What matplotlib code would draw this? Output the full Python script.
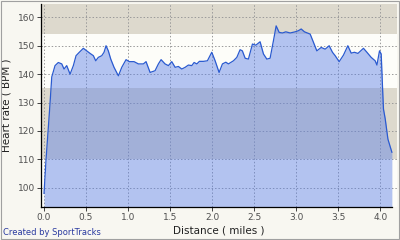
import matplotlib
matplotlib.use("Agg")
import matplotlib.pyplot as plt
from matplotlib.patches import Rectangle

distance = [0.000, 0.024, 0.054, 0.071, 0.092, 0.131, 0.170, 0.211, 0.238, 0.270,
            0.310, 0.349, 0.381, 0.420, 0.468, 0.508, 0.548, 0.587, 0.615, 0.646,
            0.687, 0.714, 0.738, 0.765, 0.794, 0.833, 0.885, 0.925, 0.976, 1.015,
            1.071, 1.123, 1.182, 1.214, 1.262, 1.321, 1.361, 1.393, 1.440, 1.480,
            1.520, 1.560, 1.599, 1.639, 1.679, 1.718, 1.758, 1.786, 1.818, 1.849,
            1.896, 1.944, 1.996, 2.036, 2.083, 2.123, 2.163, 2.194, 2.254, 2.294,
            2.333, 2.360, 2.393, 2.432, 2.480, 2.520, 2.571, 2.611, 2.651, 2.690,
            2.730, 2.762, 2.798, 2.837, 2.877, 2.929, 2.988, 3.027, 3.060, 3.099,
            3.167, 3.206, 3.246, 3.298, 3.345, 3.393, 3.432, 3.464, 3.512, 3.563,
            3.615, 3.655, 3.694, 3.735, 3.801, 3.842, 3.893, 3.940, 3.961, 3.992,
            4.012, 4.027, 4.039, 4.060, 4.092, 4.139]
heart_rate = [98.0, 110.0, 122.4, 129.5, 139.0, 143.0, 144.1, 143.6, 141.8, 143.0,
              140.0, 143.0, 146.5, 147.7, 149.1, 148.2, 147.3, 146.5, 144.7, 145.9,
              146.5, 147.7, 150.0, 148.2, 145.3, 142.4, 139.4, 142.4, 145.1, 144.4,
              144.4, 143.6, 143.6, 144.4, 140.6, 141.2, 143.6, 145.1, 143.6, 143.0,
              144.4, 142.4, 142.7, 141.8, 142.4, 143.2, 143.0, 144.1, 143.6, 144.5,
              144.5, 144.7, 147.7, 144.7, 140.6, 143.6, 144.2, 143.6, 144.7, 145.9,
              148.6, 148.2, 145.6, 145.3, 150.6, 150.2, 151.4, 147.1, 145.3, 145.6,
              151.8, 157.0, 154.7, 154.5, 154.9, 154.5, 154.9, 155.3, 155.9, 154.9,
              154.1, 151.2, 148.2, 149.4, 148.8, 150.0, 147.7, 146.5, 144.4, 146.7,
              150.0, 147.4, 147.7, 147.3, 149.1, 147.7, 145.9, 144.7, 143.2, 148.2,
              147.1, 135.9, 127.7, 124.2, 117.1, 112.5]

zone_bounds = [93.2, 110, 135, 154, 164.7]
zone_colors = ["#fdfdf9", "#ddd9cd", "#fdfdf9", "#ddd9cd"]

x_ticks = [0.0, 0.5, 1.0, 1.5, 2.0, 2.5, 3.0, 3.5, 4.0]
y_ticks = [100, 110, 120, 130, 140, 150, 160]

fig = plt.figure(figsize=(4.0, 2.4), dpi=100)
fig.patch.set_facecolor("#f8f7f1")
fig.add_artist(Rectangle((0.0015, 0.0025), 0.997, 0.995, transform=fig.transFigure,
                         fill=False, edgecolor="#a0a0a0", linewidth=0.8))

ax = fig.add_axes([0.1025, 0.1375, 0.89, 0.8458])
ax.set_xlim(-0.036, 4.20)
ax.set_ylim(zone_bounds[0], zone_bounds[-1])

for lo, hi, c in zip(zone_bounds[:-1], zone_bounds[1:], zone_colors):
    ax.axhspan(lo, hi, color=c, zorder=0, linewidth=0)

ax.grid(True, color="#9a9a9a", linestyle=(0, (1.5, 2)), linewidth=0.7, zorder=1)
ax.set_axisbelow(True)

ax.fill_between(distance, heart_rate, zone_bounds[0], color="#5a7ee6", alpha=0.45,
                linewidth=0, zorder=2)
ax.plot(distance, heart_rate, color="#2a5ad0", linewidth=0.9, zorder=3)

ax.set_xticks(x_ticks)
ax.set_xticklabels([f"{v:.1f}" for v in x_ticks])
ax.set_yticks(y_ticks)
ax.tick_params(axis="both", labelsize=6.5, length=3, width=0.7, color="#404040",
               labelcolor="#505050", pad=1.5)
for s in ["top", "right"]:
    ax.spines[s].set_visible(False)
ax.spines["left"].set_linewidth(0.9)
ax.spines["bottom"].set_linewidth(0.9)
ax.spines["bottom"].set_bounds(-0.036, 4.14)

ax.set_xlabel("Distance ( miles )", fontsize=7.5, color="#202020", labelpad=2)
ax.set_ylabel("Heart rate ( BPM )", fontsize=7.5, color="#202020", labelpad=4)

fig.text(0.008, 0.012, "Created by SportTracks", fontsize=6, color="#2a3aa0",
         ha="left", va="bottom")

fig.savefig("out.png", dpi=100, facecolor=fig.get_facecolor())
